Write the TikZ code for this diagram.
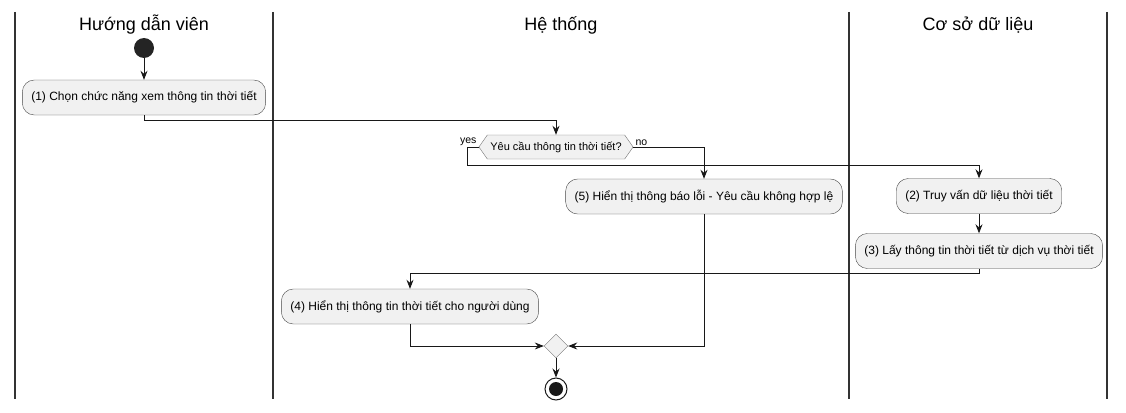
\documentclass[tikz,border=0pt]{standalone}
\usepackage{fontspec}
\setmainfont{Liberation Sans}
\usetikzlibrary{arrows.meta,shapes.geometric,shapes.symbols,positioning}
\definecolor{actfill}{HTML}{F1F1F1}
\definecolor{linec}{HTML}{181818}

\begin{document}
\begin{tikzpicture}
  [x=1pt,y=-1pt,align=center,node distance=55pt,
   act/.style={draw=linec!80,fill=actfill,rounded corners=12pt,minimum height=35pt,inner xsep=9pt,font=\fontsize{12}{14}\selectfont},
   flow/.style={draw=linec,line width=0.8pt,-{Stealth[length=9pt,width=7pt,inset=3pt]}},
   lane/.style={draw=black!80,line width=1.5pt},
   head/.style={font=\fontsize{18}{20}\selectfont},
   lbl/.style={font=\fontsize{10.5}{12}\selectfont,inner sep=1pt}]

  \useasboundingbox (0,0) rectangle (1126,412);

  % lanes
  \draw[lane] (15,12) -- (15,399);
  \draw[lane] (273,12) -- (273,399);
  \draw[lane] (849,12) -- (849,399);
  \draw[lane] (1107,12) -- (1107,399);
  \node[head] (h1) at (144,25) {Hướng dẫn viên};
  \node[head] (h2) at (561,25) {Hệ thống};
  \node[head] (h3) at (978,25) {Cơ sở dữ liệu};

  \node[circle,fill=linec!95,minimum size=20pt,inner sep=0pt] (start) at (144,48) {};
  \node[act] (b1) at (144,97.5) {(1) Chọn chức năng xem thông tin thời tiết};
  \node[signal,signal to=west and east,signal pointer angle=110,draw=linec!60,fill=actfill,minimum height=24pt,inner xsep=3pt,inner ysep=0pt,font=\fontsize{11}{13}\selectfont] (dec) at (556,147) {Yêu cầu thông tin thời tiết?};
  \node[lbl,above left=0pt and 1pt of dec.west] (yes) {yes};
  \node[lbl,above right=0pt and 1pt of dec.east] (no) {no};
  \node[act] (b5) at (704,196.5) {(5) Hiển thị thông báo lỗi - Yêu cầu không hợp lệ};
  \node[act] (b2) at (979,196) {(2) Truy vấn dữ liệu thời tiết};
  \node[act] (b3) [below of=b2] {(3) Lấy thông tin thời tiết từ dịch vụ thời tiết};
  \node[act] (b4) at (410,306.5) {(4) Hiển thị thông tin thời tiết cho người dùng};
  \node[diamond,draw=linec!60,fill=actfill,minimum width=24pt,minimum height=24pt,inner sep=0pt] (merge) at (556,346) {};
  \node[circle,draw=linec,line width=1pt,minimum size=22pt,inner sep=0pt,
        path picture={\fill[linec] (path picture bounding box.center) circle (7pt);}] (stop) [below of=merge,node distance=43pt] {};

  \draw[flow] (start) -- (b1);
  \draw[flow] (b1.south) -- ++(0,5) -| (dec.north);
  \draw[flow] (dec.west) -- ++(-11,0) -- ++(0,18) -| (b2.north);
  \draw[flow] (dec.east) -| (b5.north);
  \draw[flow] (b2) -- (b3);
  \draw[flow] (b3.south) -- ++(0,5) -| (b4.north);
  \draw[flow] (b4.south) |- (merge.west);
  \draw[flow] (b5.south) |- (merge.east);
  \draw[flow] (merge) -- (stop);
\end{tikzpicture}
\end{document}
